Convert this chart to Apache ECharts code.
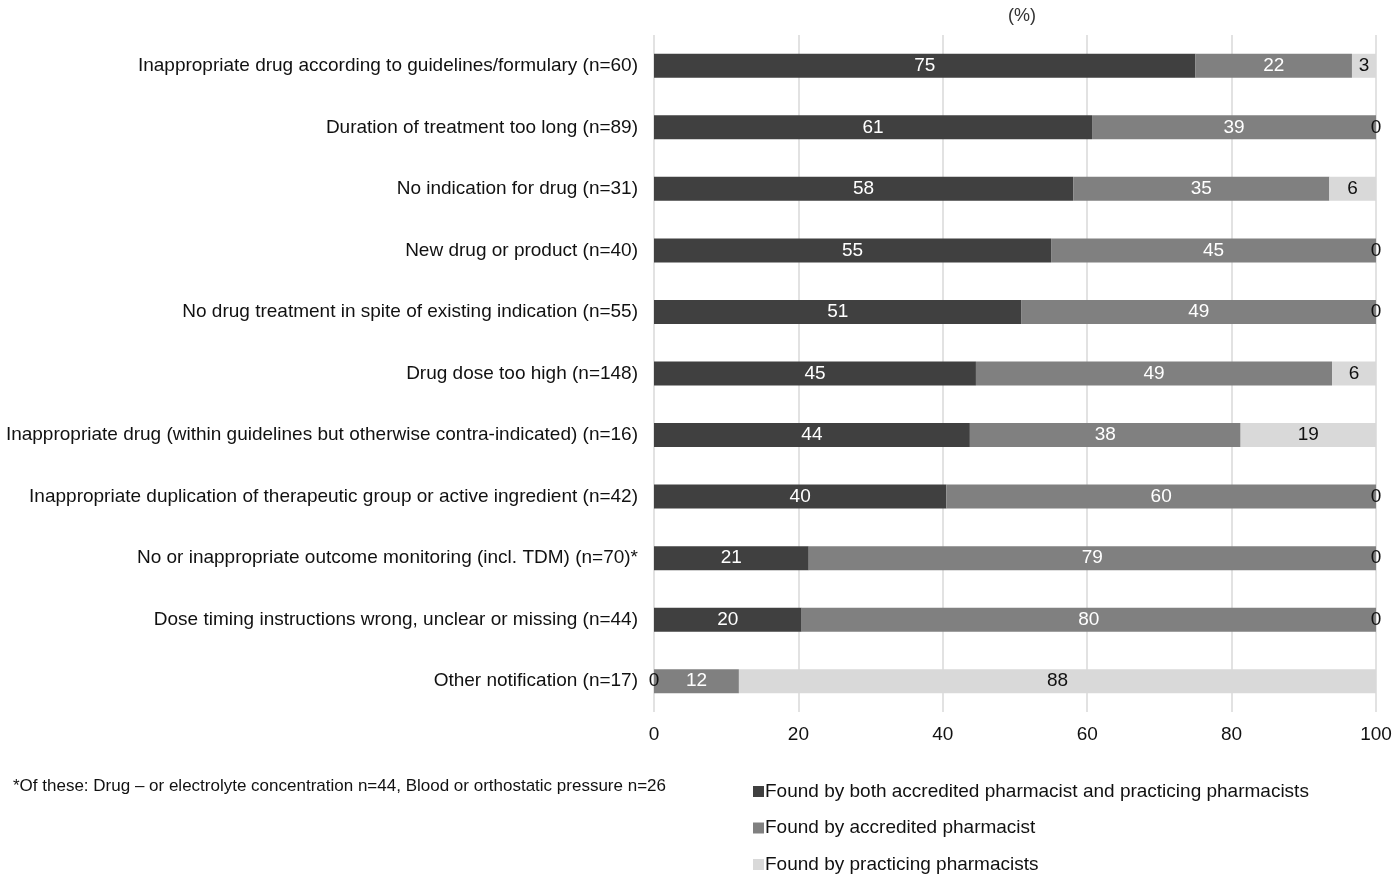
<!DOCTYPE html>
<html>
<head>
<meta charset="utf-8">
<script src="https://cdn.jsdelivr.net/npm/echarts@6/dist/echarts.min.js"></script>
<style>html,body{margin:0;padding:0;background:#fff;}#c{width:1400px;height:879px;}</style>
</head>
<body>
<div id="c"></div>
<script>
const categories = [
  "Inappropriate drug according to guidelines/formulary (n=60)",
  "Duration of treatment too long (n=89)",
  "No indication for drug (n=31)",
  "New drug or product (n=40)",
  "No drug treatment in spite of existing indication (n=55)",
  "Drug dose too high (n=148)",
  "Inappropriate drug (within guidelines but otherwise contra-indicated) (n=16)",
  "Inappropriate duplication of therapeutic group or active ingredient (n=42)",
  "No or inappropriate outcome monitoring (incl. TDM) (n=70)*",
  "Dose timing instructions wrong, unclear or missing (n=44)",
  "Other notification (n=17)"
];
const seriesNames = [
  "Found by both accredited pharmacist and practicing pharmacists",
  "Found by accredited pharmacist",
  "Found by practicing pharmacists"
];
const bothValues = [75.0, 60.67, 58.06, 55.0, 50.91, 44.59, 43.75, 40.48, 21.43, 20.45, 0];
const accreditedValues = [21.67, 39.33, 35.48, 45.0, 49.09, 49.32, 37.5, 59.52, 78.57, 79.55, 11.76];
const practicingValues = [3.33, 0, 6.45, 0, 0, 6.08, 18.75, 0, 0, 0, 88.24];
const xTicks = [0, 20, 40, 60, 80, 100];
const footnote = "*Of these: Drug \u2013 or electrolyte concentration n=44, Blood or orthostatic pressure n=26";
const unitLabel = "(%)";

const colors = ["#404040", "#808080", "#d9d9d9"];
const labelColors = ["#ffffff", "#ffffff", "#111111"];
const font = "'Liberation Sans', Arial, sans-serif";

function mkData(vals) {
  return vals.map(v => v === 0
    ? { value: v, label: { color: "#111111" } }
    : { value: v });
}

const allValues = [bothValues, accreditedValues, practicingValues];
const series = allValues.map((vals, i) => ({
  name: seriesNames[i],
  type: "bar",
  stack: "total",
  barWidth: 24,
  itemStyle: { color: colors[i] },
  label: {
    show: true,
    position: "inside",
    color: labelColors[i],
    fontSize: 19,
    fontFamily: font,
    formatter: p => String(Math.round(p.value))
  },
  labelLayout: { hideOverlap: false },
  data: mkData(vals)
}));

const chart = echarts.init(document.getElementById("c"), null, { renderer: "canvas" });
chart.setOption({
  backgroundColor: "#ffffff",
  animation: false,
  color: colors,
  title: {
    text: unitLabel,
    left: 1017, top: 2,
    textAlign: "center",
    textStyle: { fontSize: 18, fontWeight: "normal", color: "#333", fontFamily: font }
  },
  grid: { left: 654, right: 24, top: 35, bottom: 167, containLabel: false },
  xAxis: {
    type: "value",
    min: 0, max: 100, interval: 20,
    axisLine: { show: false },
    axisTick: { show: false },
    splitLine: { show: true, lineStyle: { color: "#d9d9d9", width: 1.5 } },
    axisLabel: { fontSize: 19, color: "#111", fontFamily: font, margin: 13,
      formatter: v => xTicks.includes(v) ? String(v) : "" }
  },
  yAxis: {
    type: "category",
    inverse: true,
    data: categories,
    axisLine: { show: false },
    axisTick: { show: false },
    axisLabel: { fontSize: 19, color: "#111", fontFamily: font, margin: 16 }
  },
  legend: {
    orient: "vertical",
    left: 748, top: 777,
    itemWidth: 11, itemHeight: 11,
    itemGap: 17.5,
    icon: "rect",
    textStyle: { fontSize: 19, color: "#111", fontFamily: font, padding: [0, 0, 0, -4] },
    data: seriesNames
  },
  graphic: [{
    type: "text",
    left: 13, top: 778,
    style: { text: footnote, fontSize: 17, fill: "#111", fontFamily: font }
  }],
  series: series
});
</script>
</body>
</html>
